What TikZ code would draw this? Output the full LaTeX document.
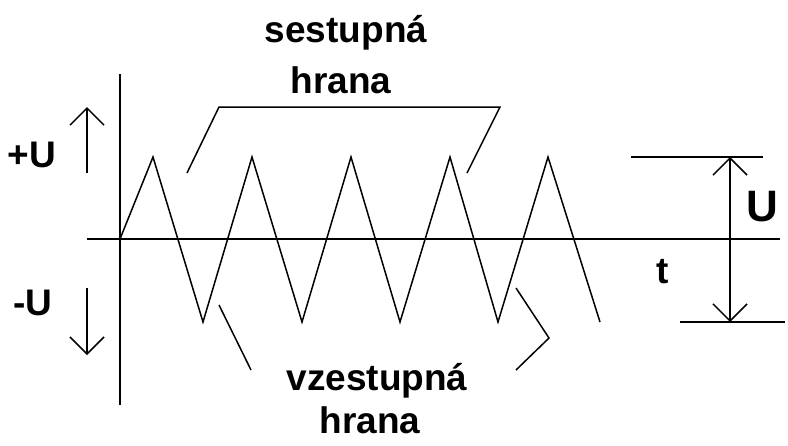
\documentclass[tikz,border=0pt]{standalone}
\usepackage{fontspec}
\setmainfont{Liberation Sans}
\usetikzlibrary{arrows.meta}
\tikzset{
  wavepicture/.style={x=1pt, y=-1pt, line width=1.5pt, line join=miter},
  wavelabel/.style={font=\fontsize{37}{44}\selectfont\bfseries, inner sep=0pt, anchor=base},
  wavebig/.style={wavelabel, font=\fontsize{44}{52}\selectfont\bfseries},
  wavetip/.style={-{Straight Barb[length=17pt, width=34pt]}},
  wavetips/.style={{Straight Barb[length=17pt, width=34pt]}-{Straight Barb[length=17pt, width=34pt]}}
}

\begin{document}
\begin{tikzpicture}[wavepicture]
\useasboundingbox (0,0) rectangle (788,445);
% labels
\node[wavelabel] (falltop) at (346,42) {sestupná};
\node[wavelabel] (fallbot) at (341,93) {hrana};
\node[wavelabel] (risetop) at (377,390) {vzestupná};
\node[wavelabel] (risebot) at (370,433) {hrana};
\node[wavelabel] (plus) at (32,167) {+U};
\node[wavelabel] (minus) at (33,315) {-U};
\node[wavebig] (amp) at (762,221) {U};
\node[wavelabel] (time) at (663,283) {t};
% axes
\coordinate (origin) at (120,239);
\coordinate (ytop) at (120,74);
\coordinate (ybot) at (120,405);
\coordinate (xleft) at (87,239);
\coordinate (xright) at (780,239);
\draw (ytop) -- (ybot);
\draw (xleft) -- (xright);
% triangle wave
\draw (origin) -- (153,157) -- (203,322) -- (252,157) -- (302,322) -- (351,157)
  -- (400,322) -- (450,157) -- (498,322) -- (548,157) -- (600,322);
% polarity arrows
\coordinate (upfrom) at (87,173);
\coordinate (upto) at (87,107);
\coordinate (downfrom) at (87,288);
\coordinate (downto) at (87,355);
\draw[wavetip] (upfrom) -- (upto);
\draw[wavetip] (downfrom) -- (downto);
% amplitude
\coordinate (hitop) at (730,157);
\coordinate (hibot) at (730,322);
\draw (631,157) -- (763,157);
\draw (680,322) -- (785,322);
\draw[wavetips] (hibot) -- (hitop);
% leader lines
\draw (187,173) -- (219,107) -- (500,107) -- (467,173);
\draw (219,305) -- (251,370);
\draw (516,288) -- (549,338) -- (516,370);
\end{tikzpicture}
\end{document}
